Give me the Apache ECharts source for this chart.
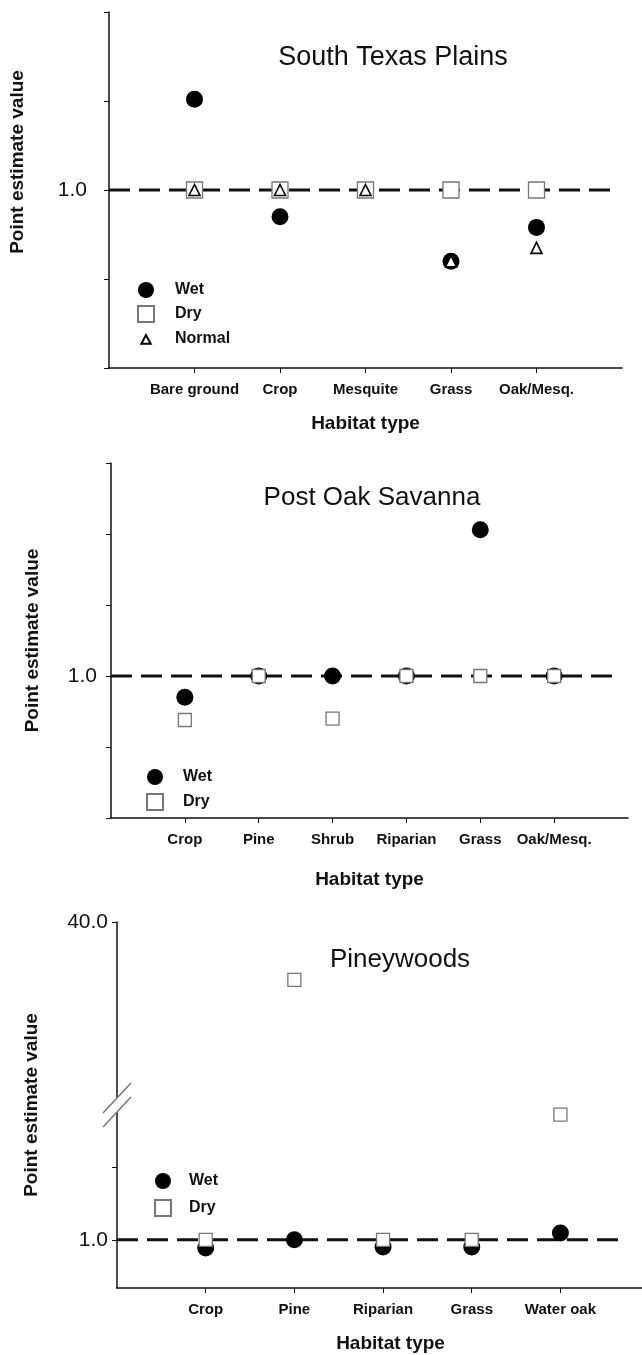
<!DOCTYPE html>
<html>
<head>
<meta charset="utf-8">
<title>Point estimate value by habitat type</title>
<script src="https://cdn.jsdelivr.net/npm/echarts@6/dist/echarts.min.js"></script>
<style>
  html, body { margin: 0; padding: 0; background: #fff; }
  #main { width: 642px; height: 1355px; }
</style>
</head>
<body>
<div id="main"></div>
<script>
// South Texas Plains
var stpCategories = ['Bare ground', 'Crop', 'Mesquite', 'Grass', 'Oak/Mesq.'];
var stpWet = [1.51, 0.85, null, 0.60, 0.79];
var stpDry = [1.0, 1.0, 1.0, 1.0, 1.0];
var stpNormal = [1.0, 1.0, 1.0, 0.60, 0.675];
var stpYLabels = [1.0];

// Post Oak Savanna
var posCategories = ['Crop', 'Pine', 'Shrub', 'Riparian', 'Grass', 'Oak/Mesq.'];
var posWet = [0.85, 1.0, 1.0, 1.0, 2.03, 1.0];
var posDry = [0.69, 1.0, 0.70, 1.0, 1.0, 1.0];
var posYLabels = [1.0];

// Pineywoods (broken y axis)
var pwCategories = ['Crop', 'Pine', 'Riparian', 'Grass', 'Water oak'];
var pwWet = [0.83, 1.0, 0.85, 0.85, 1.14];
var pwDry = [1.0, 38.8, 1.0, 1.0, 3.6];
var pwYLabels = [1.0, 40.0];
var pwYTicks = [1.0, 2.5, 40.0];
var pwBreak = [3.8, 36.2];

var refLevel = 1.0;

var FONT = '"Liberation Sans", Arial, Helvetica, sans-serif';
var INK = '#111';
// smaller triangle inside the legend box (the two bare moves set the box)
var SMALL_TRIANGLE = 'path://M0,0 M24,24 M5,19 L12,6 L19,19 Z';

var chart = echarts.init(document.getElementById('main'));

function pts(values) {
  var out = [];
  values.forEach(function (v, i) {
    if (v != null) out.push([i + 1, v]);
  });
  return out;
}

function seq(n) {
  var a = [];
  for (var i = 1; i <= n; i++) a.push(i);
  return a;
}

var panels = [
  {
    title: 'South Texas Plains', titleX: 393, titleY: 58, titleSize: 27,
    grid: { left: 109, top: 12, width: 513, height: 356 },
    cats: stpCategories, xMax: 6, lineEnd: 5.9,
    y: { min: 0, max: 2, interval: 0.5, labels: stpYLabels, margin: 22 },
    yNameGap: 82, yNamePad: [0, 0, 0, 56], xNameGap: 46,
    legend: { left: 132, top: 277, itemGap: 7, pad: 16 },
    series: { Wet: stpWet, Dry: stpDry, Normal: stpNormal },
    drySize: 16
  },
  {
    title: 'Post Oak Savanna', titleX: 372, titleY: 498, titleSize: 26,
    grid: { left: 111, top: 463, width: 517, height: 355 },
    cats: posCategories, xMax: 7, lineEnd: 6.9,
    y: { min: 0, max: 2.5, interval: 0.5, labels: posYLabels, margin: 14 },
    yNameGap: 69, yNamePad: 0, xNameGap: 52,
    legend: { left: 141, top: 764, itemGap: 8, pad: 15 },
    series: { Wet: posWet, Dry: posDry },
    drySize: 13
  },
  {
    title: 'Pineywoods', titleX: 400, titleY: 960, titleSize: 26,
    grid: { left: 117, top: 922, width: 525, height: 366 },
    cats: pwCategories, xMax: 5.92, lineEnd: 5.66,
    y: { min: 0, max: 40, labels: pwYLabels, ticks: pwYTicks, margin: 9, brk: pwBreak },
    yNameGap: 76, yNamePad: 0, xNameGap: 46, xNamePad: [0, 0, 0, 22],
    legend: { left: 149, top: 1168, itemGap: 10, pad: 13 },
    series: { Wet: pwWet, Dry: pwDry },
    drySize: 13
  }
];

var grids = [], xAxes = [], yAxes = [], series = [], legends = [];

panels.forEach(function (p, i) {
  grids.push(p.grid);

  xAxes.push({
    type: 'value', gridIndex: i, min: 0, max: p.xMax,
    axisLine: { show: true, onZero: false, lineStyle: { color: INK, width: 1.5 } },
    axisTick: { show: true, customValues: seq(p.cats.length), length: 5, lineStyle: { color: INK } },
    axisLabel: {
      customValues: seq(p.cats.length), margin: 14,
      formatter: function (v) { return p.cats[Math.round(v) - 1] || ''; },
      color: INK, fontSize: 15, fontWeight: 'bold', fontFamily: FONT
    },
    splitLine: { show: false },
    name: 'Habitat type', nameLocation: 'middle', nameGap: p.xNameGap,
    nameTextStyle: { color: INK, fontSize: 19, fontWeight: 'bold', fontFamily: FONT, padding: p.xNamePad || 0 }
  });

  var y = {
    type: 'value', gridIndex: i, min: p.y.min, max: p.y.max,
    axisLine: { show: true, onZero: false, lineStyle: { color: INK, width: 1.5 } },
    axisTick: { show: true, length: 5, lineStyle: { color: INK } },
    axisLabel: {
      margin: p.y.margin, color: INK, fontSize: 21, fontFamily: FONT,
      formatter: function (v) {
        return p.y.labels.indexOf(v) >= 0 ? v.toFixed(1) : '';
      }
    },
    splitLine: { show: false },
    name: 'Point estimate value', nameLocation: 'middle', nameGap: p.yNameGap,
    nameTextStyle: { color: INK, fontSize: 19, fontWeight: 'bold', fontFamily: FONT, padding: p.yNamePad }
  };
  if (p.y.interval) y.interval = p.y.interval;
  if (p.y.ticks) {
    y.axisTick.customValues = p.y.ticks;
    y.axisLabel.customValues = p.y.labels;
  }
  if (p.y.brk) {
    y.breaks = [{ start: p.y.brk[0], end: p.y.brk[1], gap: 0 }];
    y.breakArea = { show: false };
  }
  yAxes.push(y);

  series.push({
    type: 'line', name: 'ref', xAxisIndex: i, yAxisIndex: i,
    data: [[0, refLevel], [p.lineEnd, refLevel]],
    symbol: 'none', silent: true, z: 1,
    lineStyle: { color: INK, width: 3, type: [21, 9] }
  });
  series.push({
    type: 'scatter', name: 'Wet', xAxisIndex: i, yAxisIndex: i,
    data: pts(p.series.Wet), symbol: 'circle', symbolSize: 17, z: 3,
    itemStyle: { color: '#000', opacity: 1 }
  });
  series.push({
    type: 'scatter', name: 'Dry', xAxisIndex: i, yAxisIndex: i,
    data: pts(p.series.Dry), symbol: 'rect', symbolSize: p.drySize, z: 4,
    itemStyle: { color: '#fff', borderColor: '#777', borderWidth: 1.3, opacity: 1 }
  });
  var legendData = [{ name: 'Wet', icon: 'circle' }, { name: 'Dry', icon: 'rect' }];
  if (p.series.Normal) {
    series.push({
      type: 'scatter', name: 'Normal', xAxisIndex: i, yAxisIndex: i,
      data: pts(p.series.Normal), symbol: 'triangle', symbolSize: 11, z: 5,
      itemStyle: { color: '#fff', borderColor: '#000', borderWidth: 1.6, opacity: 1 }
    });
    legendData.push({ name: 'Normal', icon: SMALL_TRIANGLE });
  }

  legends.push({
    orient: 'vertical', left: p.legend.left, top: p.legend.top,
    itemWidth: 16, itemHeight: 16, itemGap: p.legend.itemGap,
    selectedMode: false, data: legendData,
    textStyle: { color: INK, fontSize: 16, fontWeight: 'bold', fontFamily: FONT, padding: [0, 0, 0, p.legend.pad] }
  });
});

option = {
  animation: false,
  backgroundColor: '#fff',
  grid: grids,
  xAxis: xAxes,
  yAxis: yAxes,
  legend: legends,
  series: series
};

chart.setOption(option);

// titles and the break marks on the Pineywoods axis
var graphics = panels.map(function (p) {
  return {
    type: 'text', x: p.titleX, y: p.titleY, silent: true,
    style: {
      text: p.title, align: 'center', verticalAlign: 'middle',
      font: 'normal ' + p.titleSize + 'px ' + FONT, fill: INK
    }
  };
});

var bx = chart.convertToPixel({ xAxisIndex: 2 }, 0);
var by = chart.convertToPixel({ yAxisIndex: 2 }, pwBreak[0]);
if (isFinite(bx) && isFinite(by)) {
  graphics.push({
    type: 'rect', silent: true, z: 10,
    shape: { x: bx - 3, y: by - 7, width: 6, height: 14 },
    style: { fill: '#fff' }
  });
  [-7, 7].forEach(function (d) {
    graphics.push({
      type: 'line', silent: true, z: 11,
      shape: { x1: bx - 14, y1: by + d + 15, x2: bx + 14, y2: by + d - 15 },
      style: { stroke: '#777', lineWidth: 1.5 }
    });
  });
}

chart.setOption({ graphic: graphics });
</script>
</body>
</html>
